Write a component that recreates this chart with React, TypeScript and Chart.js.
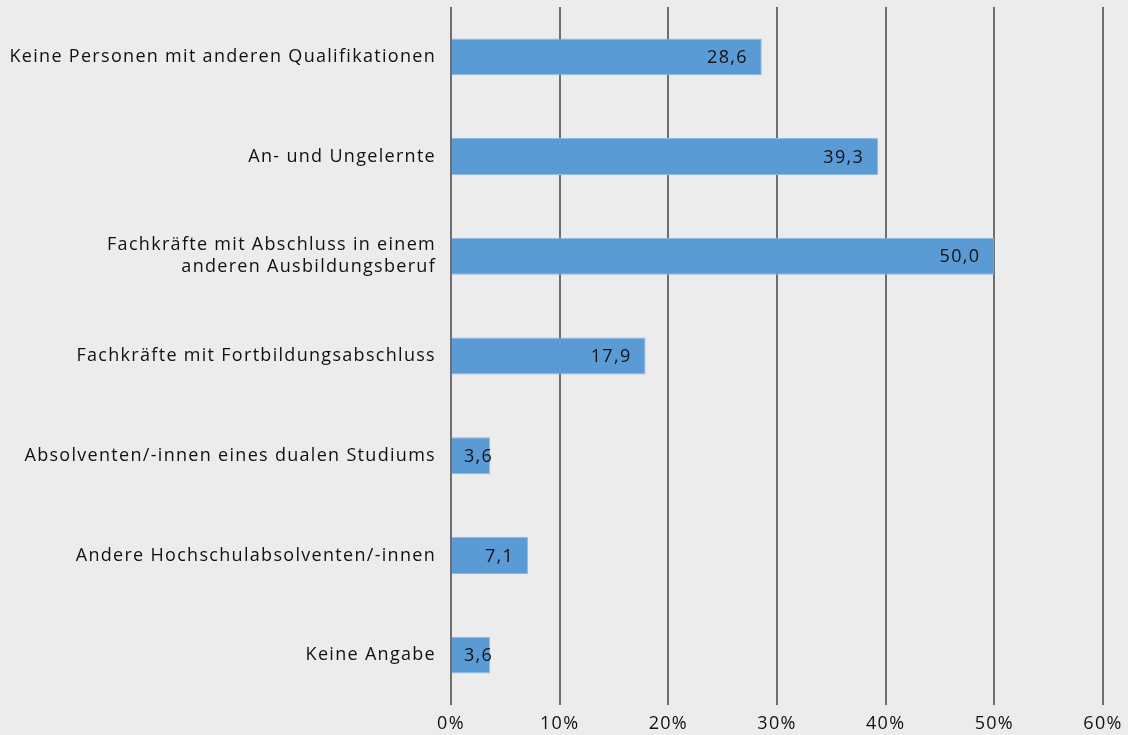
import React, { useEffect, useRef } from "react";
import { Chart, registerables } from "chart.js";

Chart.register(...registerables);

const categories: (string | string[])[] = [
  "Keine Personen mit anderen Qualifikationen",
  "An- und Ungelernte",
  ["Fachkräfte mit Abschluss in einem", "anderen Ausbildungsberuf"],
  "Fachkräfte mit Fortbildungsabschluss",
  "Absolventen/-innen eines dualen Studiums",
  "Andere Hochschulabsolventen/-innen",
  "Keine Angabe",
];
const values: number[] = [28.6, 39.3, 50.0, 17.9, 3.6, 7.1, 3.6];
const xTicks: number[] = [0, 10, 20, 30, 40, 50, 60];

const FONT = "'Open Sans', 'Noto Sans', sans-serif";
const SPACING = "1.3px";

const bgPlugin = {
  id: "bg",
  beforeLayout(chart: any) {
    chart.ctx.letterSpacing = SPACING;
  },
  beforeDraw(chart: any) {
    const ctx = chart.ctx;
    ctx.letterSpacing = SPACING;
    ctx.save();
    ctx.fillStyle = "#ececec";
    ctx.fillRect(0, 0, chart.width, chart.height);
    ctx.restore();
  },
};

const labelPlugin = {
  id: "valLabels",
  afterDatasetsDraw(chart: any) {
    const ctx = chart.ctx;
    const meta = chart.getDatasetMeta(0);
    const left = chart.chartArea.left;
    ctx.save();
    ctx.letterSpacing = SPACING;
    ctx.font = `18px ${FONT}`;
    ctx.fillStyle = "#111";
    ctx.textAlign = "right";
    ctx.textBaseline = "middle";
    meta.data.forEach((bar: any, i: number) => {
      const txt = values[i].toFixed(1).replace(".", ",");
      const w = ctx.measureText(txt).width;
      const x = Math.max(bar.x - 14, left + 13 + w);
      ctx.fillText(txt, x, bar.y + 1);
    });
    ctx.restore();
  },
};

export default function App() {
  const ref = useRef<HTMLCanvasElement | null>(null);
  useEffect(() => {
    document.body.style.margin = "0";
    const chart = new Chart(ref.current!, {
      type: "bar",
      data: {
        labels: categories,
        datasets: [
          {
            data: values,
            backgroundColor: "#5b9bd5",
            borderColor: "#8fbbe4",
            borderWidth: 1,
            barPercentage: 0.74,
            categoryPercentage: 0.5,
          },
        ],
      },
      options: {
        indexAxis: "y",
        responsive: false,
        animation: false,
        layout: { padding: { top: 7, right: 25, left: 0, bottom: 0 } },
        plugins: { legend: { display: false }, tooltip: { enabled: false } },
        scales: {
          x: {
            min: 0,
            max: 60,
            afterBuildTicks(scale: any) {
              scale.ticks = xTicks.map((v) => ({ value: v }));
            },
            afterFit(scale: any) {
              scale.height = 30;
              scale.paddingLeft = 0;
              scale.paddingRight = 0;
            },
            grid: { color: "#6e6e6e", lineWidth: 2, drawTicks: false },
            border: { display: false },
            ticks: {
              padding: 8,
              color: "#111",
              font: { family: FONT, size: 18 },
              callback: (v: any) => `${v}%`,
            },
          },
          y: {
            afterFit(scale: any) {
              scale.width = 451;
              scale.paddingTop = 0;
              scale.paddingBottom = 0;
            },
            grid: { display: false },
            border: { display: false },
            ticks: {
              padding: 7,
              color: "#111",
              font: { family: FONT, size: 18, lineHeight: 1.22 },
            },
          },
        },
      },
      plugins: [bgPlugin, labelPlugin],
    });
    return () => chart.destroy();
  }, []);
  return (
    <div style={{ width: 1128, height: 735 }}>
      <canvas ref={ref} width={1128} height={735} />
    </div>
  );
}
